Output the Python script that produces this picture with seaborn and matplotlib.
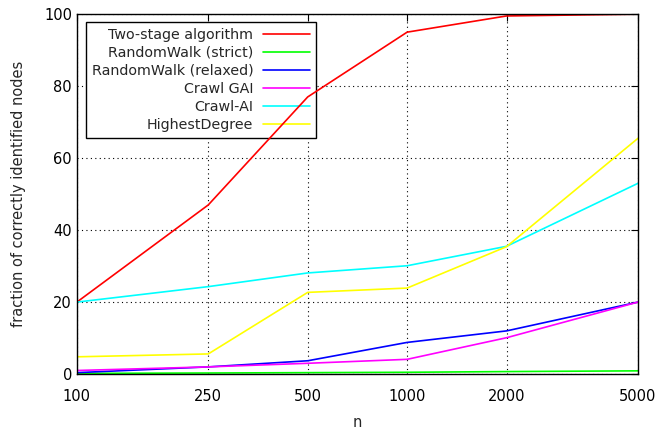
import numpy as np
import pandas as pd
import matplotlib
matplotlib.use("Agg")
import matplotlib.pyplot as plt
import seaborn as sns

# data
n_values = [100, 250, 500, 1000, 2000, 5000]
two_stage = [20, 47, 77, 95, 99.5, 100]
rw_strict = [0.2, 0.3, 0.4, 0.5, 0.7, 0.9]
rw_relaxed = [0.4, 2.0, 3.7, 8.8, 12.0, 20.0]
crawl_gai = [1.0, 2.0, 3.0, 4.1, 10.1, 20.0]
crawl_ai = [20.0, 24.3, 28.1, 30.1, 35.5, 53.0]
highest_degree = [4.8, 5.6, 22.7, 23.9, 35.4, 65.5]

series_names = ["Two-stage algorithm", "RandomWalk (strict)", "RandomWalk (relaxed)",
                "Crawl GAI", "Crawl-AI", "HighestDegree"]
series_values = [two_stage, rw_strict, rw_relaxed, crawl_gai, crawl_ai, highest_degree]
series_colors = ["#ff0000", "#00ff00", "#0000ff", "#ff00ff", "#00ffff", "#ffff00"]

rows = []
for name, vals in zip(series_names, series_values):
    for n, v in zip(n_values, vals):
        rows.append({"n": n, "value": v, "method": name})
df = pd.DataFrame(rows)

sns.set_style("white")
plt.rcParams["font.family"] = ["DejaVu Sans"]

fig = plt.figure(figsize=(6.57, 4.29), dpi=100)
ax = fig.add_axes([0.117, 0.128, 0.854, 0.839])

sns.lineplot(data=df, x="n", y="value", hue="method", hue_order=series_names,
             palette=dict(zip(series_names, series_colors)), linewidth=1.2, ax=ax)

ax.set_xscale("log")
ax.set_xlim(100, 5000)
ax.set_ylim(0, 100)
ax.set_xticks(n_values)
ax.set_xticklabels([str(n) for n in n_values])
ax.minorticks_off()
ax.set_yticks([0, 20, 40, 60, 80, 100])
ax.tick_params(direction="in", top=True, right=True, length=5, labelsize=10.5, colors="black")
ax.tick_params(axis="x", pad=11)
ax.grid(True, color="black", linestyle=(0, (1, 3)), linewidth=0.8)
for sp in ax.spines.values():
    sp.set_color("black")
    sp.set_linewidth(1.0)

ax.set_xlabel("n", fontsize=10.5, labelpad=8)
ax.set_ylabel("fraction of correctly identified nodes", fontsize=10.5, labelpad=13)

# gnuplot-style key: right-aligned labels followed by the line sample;
# it hides the grid but the data lines are drawn over it
leg = ax.legend(loc="upper left", bbox_to_anchor=(0.016, 0.978), borderaxespad=0,
                markerfirst=False, fontsize=10.3, frameon=True, fancybox=False,
                handlelength=3.3, borderpad=0.4, labelspacing=0.28, handletextpad=0.65)
leg.get_frame().set_edgecolor("black")
leg.get_frame().set_facecolor("white")
leg.get_frame().set_alpha(1.0)
leg.get_frame().set_linewidth(1.0)
leg.set_zorder(1.8)

fig.savefig("out.png", dpi=100)
